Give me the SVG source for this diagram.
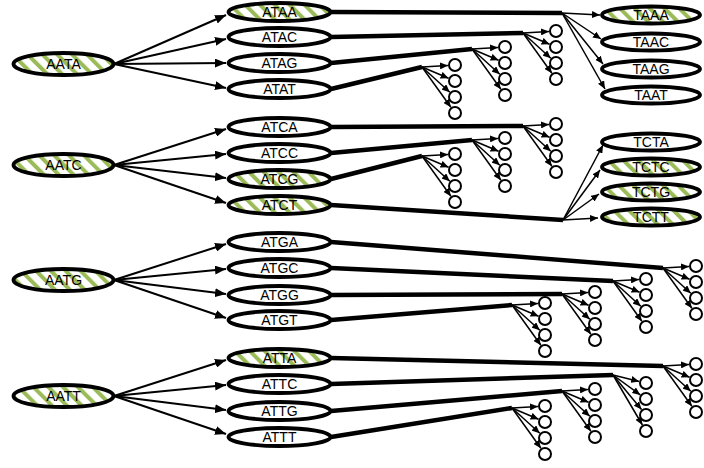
<svg xmlns="http://www.w3.org/2000/svg" xmlns:xlink="http://www.w3.org/1999/xlink" width="704" height="468" viewBox="0 0 704 468">
<style>
.nd{stroke:#000;stroke-width:3.8;fill:#fff}
.hx{fill:url(#hatch)}
.t{font-family:"Liberation Sans",Arial,sans-serif;font-size:14px;fill:#000;text-anchor:middle}
.sc{fill:#fff;stroke:#000;stroke-width:2}
.main{stroke:#000;stroke-width:2;fill:none;marker-end:url(#ah)}
.thick{stroke:#000;stroke-width:4.5;fill:none}
.fan{stroke:#000;stroke-width:1.5;fill:none;marker-end:url(#ahs)}
</style>
<defs>
<pattern id="hatch" width="10.5" height="10.5" patternUnits="userSpaceOnUse" patternTransform="rotate(-45)">
<rect width="10.5" height="10.5" fill="#fff"/>
<rect width="4" height="10.5" fill="#9bbb59"/>
</pattern>
<marker id="ah" markerUnits="userSpaceOnUse" markerWidth="11" markerHeight="9" refX="11" refY="4.5" orient="auto"><path d="M0,0 L11,4.5 L0,9 z" fill="#000"/></marker>
<marker id="ahs" markerUnits="userSpaceOnUse" markerWidth="8" markerHeight="7" refX="8" refY="3.5" orient="auto"><path d="M0,0 L8,3.5 L0,7 z" fill="#000"/></marker>
</defs>
<rect width="704" height="468" fill="#fff"/>

<g id="connectors">
<g id="fan-left">
<line class="main" x1="114" y1="64" x2="226" y2="15"/>
<line class="main" x1="114" y1="64" x2="226" y2="39"/>
<line class="main" x1="114" y1="64" x2="226" y2="63"/>
<line class="main" x1="114" y1="64" x2="226" y2="88"/>
<line class="main" x1="114" y1="165" x2="226" y2="129"/>
<line class="main" x1="114" y1="165" x2="226" y2="154"/>
<line class="main" x1="114" y1="165" x2="226" y2="178"/>
<line class="main" x1="114" y1="165" x2="226" y2="203"/>
<line class="main" x1="114" y1="280" x2="226" y2="244"/>
<line class="main" x1="114" y1="280" x2="226" y2="269"/>
<line class="main" x1="114" y1="280" x2="226" y2="294"/>
<line class="main" x1="114" y1="280" x2="226" y2="318"/>
<line class="main" x1="114" y1="396" x2="226" y2="360"/>
<line class="main" x1="114" y1="396" x2="226" y2="385"/>
<line class="main" x1="114" y1="396" x2="226" y2="410"/>
<line class="main" x1="114" y1="396" x2="226" y2="434"/>
</g>
<g id="thick-lines">
<line class="thick" x1="331" y1="12" x2="562" y2="13"/>
<line class="thick" x1="331" y1="37" x2="523" y2="33"/>
<line class="thick" x1="331" y1="63" x2="472" y2="49"/>
<line class="thick" x1="331" y1="89" x2="422" y2="67"/>
<line class="thick" x1="331" y1="127" x2="523" y2="126"/>
<line class="thick" x1="331" y1="153" x2="472" y2="140"/>
<line class="thick" x1="331" y1="179" x2="422" y2="156"/>
<line class="thick" x1="331" y1="205" x2="563" y2="220"/>
<line class="thick" x1="331" y1="242" x2="663" y2="268"/>
<line class="thick" x1="331" y1="268" x2="613" y2="281"/>
<line class="thick" x1="331" y1="295" x2="562" y2="294"/>
<line class="thick" x1="331" y1="320" x2="512" y2="305"/>
<line class="thick" x1="331" y1="358" x2="663" y2="366"/>
<line class="thick" x1="331" y1="384" x2="613" y2="375"/>
<line class="thick" x1="331" y1="411" x2="562" y2="391"/>
<line class="thick" x1="331" y1="437" x2="512" y2="408"/>
</g>
<g id="fan-taa">
<line class="fan" x1="562" y1="13" x2="600" y2="15"/>
<line class="fan" x1="562" y1="13" x2="601" y2="39"/>
<line class="fan" x1="562" y1="13" x2="603" y2="64"/>
<line class="fan" x1="562" y1="13" x2="605" y2="89"/>
</g>
<g id="fan-tct">
<line class="fan" x1="563" y1="220" x2="603" y2="145"/>
<line class="fan" x1="563" y1="220" x2="600" y2="170"/>
<line class="fan" x1="563" y1="220" x2="599" y2="194"/>
<line class="fan" x1="563" y1="220" x2="598" y2="218"/>
</g>
<g id="fans-small">
<g transform="translate(523,33)"><line class="fan" x1="0" y1="0" x2="26" y2="-1.6"/><line class="fan" x1="0" y1="0" x2="26.6" y2="11.3"/><line class="fan" x1="0" y1="0" x2="27.8" y2="25.3"/><line class="fan" x1="0" y1="0" x2="28.9" y2="40.3"/></g>
<g transform="translate(472,49)"><line class="fan" x1="0" y1="0" x2="26" y2="-1.6"/><line class="fan" x1="0" y1="0" x2="26.6" y2="11.3"/><line class="fan" x1="0" y1="0" x2="27.8" y2="25.3"/><line class="fan" x1="0" y1="0" x2="28.9" y2="40.3"/></g>
<g transform="translate(422,67)"><line class="fan" x1="0" y1="0" x2="26" y2="-1.6"/><line class="fan" x1="0" y1="0" x2="26.6" y2="11.3"/><line class="fan" x1="0" y1="0" x2="27.8" y2="25.3"/><line class="fan" x1="0" y1="0" x2="28.9" y2="40.3"/></g>
<g transform="translate(523,126)"><line class="fan" x1="0" y1="0" x2="26" y2="-1.6"/><line class="fan" x1="0" y1="0" x2="26.6" y2="11.3"/><line class="fan" x1="0" y1="0" x2="27.8" y2="25.3"/><line class="fan" x1="0" y1="0" x2="28.9" y2="40.3"/></g>
<g transform="translate(472,140)"><line class="fan" x1="0" y1="0" x2="26" y2="-1.6"/><line class="fan" x1="0" y1="0" x2="26.6" y2="11.3"/><line class="fan" x1="0" y1="0" x2="27.8" y2="25.3"/><line class="fan" x1="0" y1="0" x2="28.9" y2="40.3"/></g>
<g transform="translate(422,156)"><line class="fan" x1="0" y1="0" x2="26" y2="-1.6"/><line class="fan" x1="0" y1="0" x2="26.6" y2="11.3"/><line class="fan" x1="0" y1="0" x2="27.8" y2="25.3"/><line class="fan" x1="0" y1="0" x2="28.9" y2="40.3"/></g>
<g transform="translate(663,268)"><line class="fan" x1="0" y1="0" x2="26" y2="-1.6"/><line class="fan" x1="0" y1="0" x2="26.6" y2="11.3"/><line class="fan" x1="0" y1="0" x2="27.8" y2="25.3"/><line class="fan" x1="0" y1="0" x2="28.9" y2="40.3"/></g>
<g transform="translate(613,281)"><line class="fan" x1="0" y1="0" x2="26" y2="-1.6"/><line class="fan" x1="0" y1="0" x2="26.6" y2="11.3"/><line class="fan" x1="0" y1="0" x2="27.8" y2="25.3"/><line class="fan" x1="0" y1="0" x2="28.9" y2="40.3"/></g>
<g transform="translate(562,294)"><line class="fan" x1="0" y1="0" x2="26" y2="-1.6"/><line class="fan" x1="0" y1="0" x2="26.6" y2="11.3"/><line class="fan" x1="0" y1="0" x2="27.8" y2="25.3"/><line class="fan" x1="0" y1="0" x2="28.9" y2="40.3"/></g>
<g transform="translate(512,305)"><line class="fan" x1="0" y1="0" x2="26" y2="-1.6"/><line class="fan" x1="0" y1="0" x2="26.6" y2="11.3"/><line class="fan" x1="0" y1="0" x2="27.8" y2="25.3"/><line class="fan" x1="0" y1="0" x2="28.9" y2="40.3"/></g>
<g transform="translate(663,366)"><line class="fan" x1="0" y1="0" x2="26" y2="-1.6"/><line class="fan" x1="0" y1="0" x2="26.6" y2="11.3"/><line class="fan" x1="0" y1="0" x2="27.8" y2="25.3"/><line class="fan" x1="0" y1="0" x2="28.9" y2="40.3"/></g>
<g transform="translate(613,375)"><line class="fan" x1="0" y1="0" x2="26.2" y2="6.4"/><line class="fan" x1="0" y1="0" x2="27.3" y2="19.9"/><line class="fan" x1="0" y1="0" x2="28.5" y2="34.6"/><line class="fan" x1="0" y1="0" x2="29.4" y2="50"/></g>
<g transform="translate(562,391)"><line class="fan" x1="0" y1="0" x2="26" y2="-1.6"/><line class="fan" x1="0" y1="0" x2="26.6" y2="11.3"/><line class="fan" x1="0" y1="0" x2="27.8" y2="25.3"/><line class="fan" x1="0" y1="0" x2="28.9" y2="40.3"/></g>
<g transform="translate(512,408)"><line class="fan" x1="0" y1="0" x2="26" y2="-1.6"/><line class="fan" x1="0" y1="0" x2="26.6" y2="11.3"/><line class="fan" x1="0" y1="0" x2="27.8" y2="25.3"/><line class="fan" x1="0" y1="0" x2="28.9" y2="40.3"/></g>
</g>
</g>

<g id="AATA"><ellipse class="nd hx" cx="63.5" cy="64" rx="50" ry="11"/><text class="t" x="63.5" y="69">AATA</text></g>
<g id="AATC"><ellipse class="nd hx" cx="63.5" cy="165" rx="50" ry="11"/><text class="t" x="63.5" y="170">AATC</text></g>
<g id="AATG"><ellipse class="nd hx" cx="63.5" cy="280" rx="50" ry="11"/><text class="t" x="63.5" y="285">AATG</text></g>
<g id="AATT"><ellipse class="nd hx" cx="63.5" cy="396" rx="50" ry="11"/><text class="t" x="63.5" y="401">AATT</text></g>

<g id="ATAA"><ellipse class="nd hx" cx="279.5" cy="12" rx="51" ry="9"/><text class="t" x="279.5" y="17">ATAA</text></g>
<g id="ATAC"><ellipse class="nd" cx="279.5" cy="37" rx="51" ry="9"/><text class="t" x="279.5" y="42">ATAC</text></g>
<g id="ATAG"><ellipse class="nd" cx="279.5" cy="63" rx="51" ry="9"/><text class="t" x="279.5" y="68">ATAG</text></g>
<g id="ATAT"><ellipse class="nd" cx="279.5" cy="89" rx="51" ry="9"/><text class="t" x="279.5" y="94">ATAT</text></g>
<g id="ATCA"><ellipse class="nd" cx="279.5" cy="127" rx="51" ry="9"/><text class="t" x="279.5" y="132">ATCA</text></g>
<g id="ATCC"><ellipse class="nd" cx="279.5" cy="153" rx="51" ry="9"/><text class="t" x="279.5" y="158">ATCC</text></g>
<g id="ATCG"><ellipse class="nd hx" cx="279.5" cy="179" rx="51" ry="9"/><text class="t" x="279.5" y="184">ATCG</text></g>
<g id="ATCT"><ellipse class="nd hx" cx="279.5" cy="205" rx="51" ry="9"/><text class="t" x="279.5" y="210">ATCT</text></g>
<g id="ATGA"><ellipse class="nd" cx="279.5" cy="242" rx="51" ry="9"/><text class="t" x="279.5" y="247">ATGA</text></g>
<g id="ATGC"><ellipse class="nd" cx="279.5" cy="268" rx="51" ry="9"/><text class="t" x="279.5" y="273">ATGC</text></g>
<g id="ATGG"><ellipse class="nd" cx="279.5" cy="295" rx="51" ry="9"/><text class="t" x="279.5" y="300">ATGG</text></g>
<g id="ATGT"><ellipse class="nd" cx="279.5" cy="320" rx="51" ry="9"/><text class="t" x="279.5" y="325">ATGT</text></g>
<g id="ATTA"><ellipse class="nd hx" cx="279.5" cy="358" rx="51" ry="9"/><text class="t" x="279.5" y="363">ATTA</text></g>
<g id="ATTC"><ellipse class="nd" cx="279.5" cy="384" rx="51" ry="9"/><text class="t" x="279.5" y="389">ATTC</text></g>
<g id="ATTG"><ellipse class="nd" cx="279.5" cy="411" rx="51" ry="9"/><text class="t" x="279.5" y="416">ATTG</text></g>
<g id="ATTT"><ellipse class="nd" cx="279.5" cy="437" rx="51" ry="9"/><text class="t" x="279.5" y="442">ATTT</text></g>

<g id="TAAA"><ellipse class="nd hx" cx="651" cy="15" rx="49" ry="8.5"/><text class="t" x="651" y="20">TAAA</text></g>
<g id="TAAC"><ellipse class="nd" cx="651" cy="42" rx="49" ry="8.5"/><text class="t" x="651" y="47">TAAC</text></g>
<g id="TAAG"><ellipse class="nd" cx="651" cy="69" rx="49" ry="8.5"/><text class="t" x="651" y="74">TAAG</text></g>
<g id="TAAT"><ellipse class="nd" cx="651" cy="95" rx="49" ry="8.5"/><text class="t" x="651" y="100">TAAT</text></g>
<g id="TCTA"><ellipse class="nd" cx="651" cy="142" rx="49" ry="8.5"/><text class="t" x="651" y="147">TCTA</text></g>
<g id="TCTC"><ellipse class="nd hx" cx="651" cy="167" rx="49" ry="8.5"/><text class="t" x="651" y="172">TCTC</text></g>
<g id="TCTG"><ellipse class="nd hx" cx="651" cy="192" rx="49" ry="8.5"/><text class="t" x="651" y="197">TCTG</text></g>
<g id="TCTT"><ellipse class="nd hx" cx="651" cy="217" rx="49" ry="8.5"/><text class="t" x="651" y="222">TCTT</text></g>

<g id="c-ATAC" transform="translate(523,33)"><circle class="sc" cx="33" cy="-2" r="6"/><circle class="sc" cx="33" cy="14" r="6"/><circle class="sc" cx="33" cy="30" r="6"/><circle class="sc" cx="33" cy="46" r="6"/></g>
<g id="c-ATAG" transform="translate(472,49)"><circle class="sc" cx="33" cy="-2" r="6"/><circle class="sc" cx="33" cy="14" r="6"/><circle class="sc" cx="33" cy="30" r="6"/><circle class="sc" cx="33" cy="46" r="6"/></g>
<g id="c-ATAT" transform="translate(422,67)"><circle class="sc" cx="33" cy="-2" r="6"/><circle class="sc" cx="33" cy="14" r="6"/><circle class="sc" cx="33" cy="30" r="6"/><circle class="sc" cx="33" cy="46" r="6"/></g>
<g id="c-ATCA" transform="translate(523,126)"><circle class="sc" cx="33" cy="-2" r="6"/><circle class="sc" cx="33" cy="14" r="6"/><circle class="sc" cx="33" cy="30" r="6"/><circle class="sc" cx="33" cy="46" r="6"/></g>
<g id="c-ATCC" transform="translate(472,140)"><circle class="sc" cx="33" cy="-2" r="6"/><circle class="sc" cx="33" cy="14" r="6"/><circle class="sc" cx="33" cy="30" r="6"/><circle class="sc" cx="33" cy="46" r="6"/></g>
<g id="c-ATCG" transform="translate(422,156)"><circle class="sc" cx="33" cy="-2" r="6"/><circle class="sc" cx="33" cy="14" r="6"/><circle class="sc" cx="33" cy="30" r="6"/><circle class="sc" cx="33" cy="46" r="6"/></g>
<g id="c-ATGA" transform="translate(663,268)"><circle class="sc" cx="33" cy="-2" r="6"/><circle class="sc" cx="33" cy="14" r="6"/><circle class="sc" cx="33" cy="30" r="6"/><circle class="sc" cx="33" cy="46" r="6"/></g>
<g id="c-ATGC" transform="translate(613,281)"><circle class="sc" cx="33" cy="-2" r="6"/><circle class="sc" cx="33" cy="14" r="6"/><circle class="sc" cx="33" cy="30" r="6"/><circle class="sc" cx="33" cy="46" r="6"/></g>
<g id="c-ATGG" transform="translate(562,294)"><circle class="sc" cx="33" cy="-2" r="6"/><circle class="sc" cx="33" cy="14" r="6"/><circle class="sc" cx="33" cy="30" r="6"/><circle class="sc" cx="33" cy="46" r="6"/></g>
<g id="c-ATGT" transform="translate(512,305)"><circle class="sc" cx="33" cy="-2" r="6"/><circle class="sc" cx="33" cy="14" r="6"/><circle class="sc" cx="33" cy="30" r="6"/><circle class="sc" cx="33" cy="46" r="6"/></g>
<g id="c-ATTA" transform="translate(663,366)"><circle class="sc" cx="33" cy="-2" r="6"/><circle class="sc" cx="33" cy="14" r="6"/><circle class="sc" cx="33" cy="30" r="6"/><circle class="sc" cx="33" cy="46" r="6"/></g>
<g id="c-ATTC" transform="translate(613,375)"><circle class="sc" cx="33" cy="8" r="6"/><circle class="sc" cx="33" cy="24" r="6"/><circle class="sc" cx="33" cy="40" r="6"/><circle class="sc" cx="33" cy="56" r="6"/></g>
<g id="c-ATTG" transform="translate(562,391)"><circle class="sc" cx="33" cy="-2" r="6"/><circle class="sc" cx="33" cy="14" r="6"/><circle class="sc" cx="33" cy="30" r="6"/><circle class="sc" cx="33" cy="46" r="6"/></g>
<g id="c-ATTT" transform="translate(512,408)"><circle class="sc" cx="33" cy="-2" r="6"/><circle class="sc" cx="33" cy="14" r="6"/><circle class="sc" cx="33" cy="30" r="6"/><circle class="sc" cx="33" cy="46" r="6"/></g>
</svg>
